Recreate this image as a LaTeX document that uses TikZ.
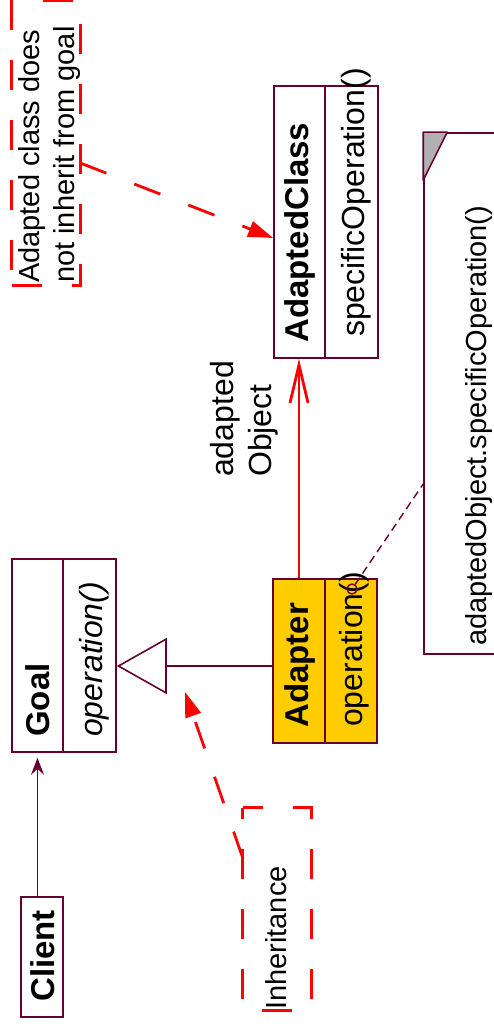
\documentclass[tikz,border=0pt]{standalone}
\usepackage{fontspec}
\setmainfont{Liberation Sans}
\usetikzlibrary{arrows.meta}
\definecolor{maroon}{RGB}{102,0,51}
\definecolor{adyellow}{RGB}{255,204,0}
\definecolor{notegray}{RGB}{176,176,176}
\begin{document}
\begin{tikzpicture}[x=1pt,y=-1pt,
  cls/.style={draw=maroon, line width=1.6pt, rectangle, inner sep=0pt},
  lbl/.style={rotate=90, anchor=west, inner sep=0pt, font=\fontsize{32}{38}\selectfont},
  lblb/.style={lbl, font=\fontsize{33}{38}\selectfont\bfseries},
  lbli/.style={lbl, font=\fontsize{32}{38}\selectfont\itshape},
  notearea/.style={rectangle, inner sep=0pt},
  noteline/.style={draw=red, line width=2.8pt, dash pattern=on 30pt off 30pt},
  notetxt/.style={rotate=90, anchor=west, inner sep=0pt, align=left, font=\fontsize{29}{35}\selectfont},
  redarrow/.style={red, line width=2.8pt, dash pattern=on 28pt off 30pt, -{Triangle[length=25pt,width=16pt]}}]
\useasboundingbox (0,0) rectangle (493,1027);

% right note
\node[draw=maroon, line width=1.6pt, minimum width=100pt, minimum height=521pt, inner sep=0pt] (noteR) at (474,393.5) {};
\filldraw[fill=notegray, draw=maroon, line width=1.6pt, line join=round] (noteR.north west) -- ([xshift=24pt]noteR.north west) -- ([yshift=-48pt]noteR.north west) -- cycle;
\node[lbl, font=\fontsize{29}{35}\selectfont] (noteRT) at (479,646) {adaptedObject.specificOperation()};

% classes
\node[cls, minimum width=51pt, minimum height=193pt] (goalN) at (37.5,655.5) {};
\node[cls, minimum width=53pt, minimum height=193pt] (goalO) at (89.5,655.5) {};
\node[cls, fill=adyellow, minimum width=52pt, minimum height=164pt] (adN) at (299,661) {};
\node[cls, fill=adyellow, minimum width=52pt, minimum height=164pt] (adO) at (351,661) {};
\node[cls, minimum width=51pt, minimum height=272pt] (acN) at (299.5,222) {};
\node[cls, minimum width=53pt, minimum height=272pt] (acO) at (351.5,222) {};
\node[cls, minimum width=42pt, minimum height=120pt] (client) at (42,957) {};

\node[lblb] (goalT) at (37.5,737) {Goal};
\node[lbli] (goalOp) at (94,737) {operation()};
\node[lblb] (adT) at (299.5,728) {Adapter};
\node[lbl] (adOp) at (354,727) {operation()};
\node[lblb] (acT) at (300,343) {AdaptedClass};
\node[lbl] (acOp) at (356,337) {specificOperation()};
\node[lblb] (clientT) at (42.5,1002) {Client};
\node[lbl, align=left] (assocT) at (244,477) {adapted\\Object};

% red notes
\node[notearea, minimum width=68pt, minimum height=284pt] (note1) at (46,143) {};
\draw[noteline, dash phase=0pt] (note1.south west) -- (note1.south east) -- (note1.north east) -- (note1.north west) -- cycle;
\node[notetxt] (note1T) at (50,283) {Adapted class does\\not inherit from goal};
\node[notearea, minimum width=68pt, minimum height=202pt] (note2) at (277,909) {};
\draw[noteline, dash phase=10pt] (note2.north west) -- (note2.north east) -- (note2.south east) -- (note2.south west) -- cycle;
\node[notetxt] (note2T) at (276,1010) {Inheritance};

% connectors
\draw[red, line width=2.8pt, -{Straight Barb[length=38pt,width=18pt]}] (adN.north) -- (adN.north |- acN.south);
\draw[maroon, line width=1.6pt, -{Triangle[open, length=50pt, width=56pt, fill=white]}] ([yshift=-5pt]adN.west) -- ([yshift=-5pt]adN.west -| goalO.east);
\draw[maroon, line width=1.4pt, -{Stealth[length=17pt,width=13pt,inset=6pt]}, shorten >=5pt] (goalN.south |- client.north) -- (goalN.south);
\draw[redarrow] ([yshift=-20pt]note1.east) -- ([yshift=-16pt]acN.west);
\coordinate (inhTip) at (185,692);
\draw[redarrow] ([yshift=51pt]note2.west) -- (inhTip);
\node[draw=maroon, circle, line width=1.4pt, minimum size=10pt, inner sep=0pt] (opc) at (352,589) {};
\draw[maroon, line width=1.4pt, dash pattern=on 8pt off 5pt] (opc) -- ([yshift=-90.5pt]noteR.west);
\end{tikzpicture}
\end{document}
